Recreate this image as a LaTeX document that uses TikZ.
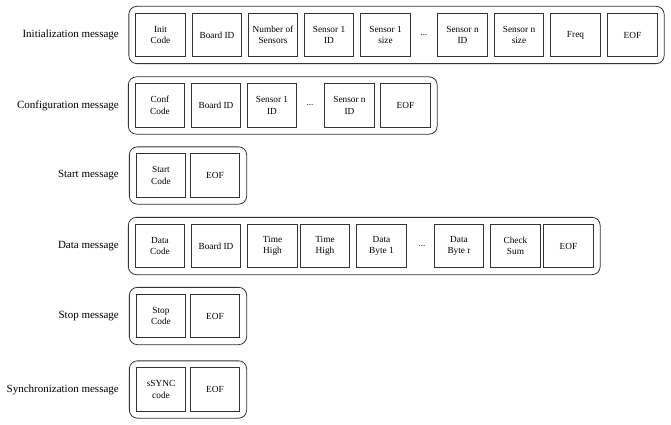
\documentclass[tikz,border=0pt]{standalone}
\usepackage{fontspec}
\setmainfont{Liberation Serif}
\usetikzlibrary{fit}
\begin{document}
\begin{tikzpicture}[x=1pt,y=-1pt,
  cell/.style={draw=black!80, line width=0.8pt, minimum width=49.5pt, minimum height=43.5pt, inner sep=1pt, align=center, font=\fontsize{9.3}{11.5}\selectfont},
  dots/.style={font=\fontsize{9}{10}\selectfont, inner sep=0pt},
  frame/.style={draw=black!80, line width=0.8pt, rounded corners=8pt, inner sep=6.5pt},
  lab/.style={anchor=east, font=\fontsize{11}{13}\selectfont, inner sep=0pt}]
\useasboundingbox (0,0) rectangle (671,425);
% Initialization
\node[lab] (l1) at (119,35) {Initialization message};
\node[cell] (i1) at (160.5,35) {Init\\Code};
\node[cell] (i2) at (217,35) {Board ID};
\node[cell] (i3) at (273,35) {Number of\\Sensors};
\node[cell] (i4) at (329,35) {Sensor 1\\ID};
\node[cell] (i5) at (385.5,35) {Sensor 1\\size};
\node[dots] (i6) at (424,35) {...};
\node[cell] (i7) at (462.5,35) {Sensor n\\ID};
\node[cell] (i8) at (519,35) {Sensor n\\size};
\node[cell] (i9) at (575.5,35) {Freq};
\node[cell] (i10) at (632.5,35) {EOF};
\node[frame, fit=(i1)(i10)] (f1) {};
% Configuration
\node[lab] (l2) at (119,105.5) {Configuration message};
\node[cell] (c1) at (160,105.5) {Conf\\Code};
\node[cell] (c2) at (216,105.5) {Board ID};
\node[cell] (c3) at (272,105.5) {Sensor 1\\ID};
\node[dots] (c4) at (310,105.5) {...};
\node[cell] (c5) at (349.5,105.5) {Sensor n\\ID};
\node[cell] (c6) at (405.5,105.5) {EOF};
\node[frame, fit=(c1)(c6)] (f2) {};
% Start
\node[lab] (l3) at (119,175.5) {Start message};
\node[cell] (s1) at (161,175.5) {Start\\Code};
\node[cell] (s2) at (215,175.5) {EOF};
\node[frame, fit=(s1)(s2)] (f3) {};
% Data
\node[lab] (l4) at (119,246) {Data message};
\node[cell] (d1) at (160,246) {Data\\Code};
\node[cell] (d2) at (216,246) {Board ID};
\node[cell] (d3) at (272.5,246) {Time\\High};
\node[cell] (d4) at (325,246) {Time\\High};
\node[cell] (d5) at (381.5,246) {Data\\Byte 1};
\node[dots] (d6) at (422,246) {...};
\node[cell] (d7) at (459,246) {Data\\Byte r};
\node[cell] (d8) at (515.5,246) {Check\\Sum};
\node[cell] (d9) at (568.5,246) {EOF};
\node[frame, fit=(d1)(d9)] (f4) {};
% Stop
\node[lab] (l5) at (119,316) {Stop message};
\node[cell] (p1) at (161,316) {Stop\\Code};
\node[cell] (p2) at (215,316) {EOF};
\node[frame, fit=(p1)(p2)] (f5) {};
% Sync
\node[lab] (l6) at (119,389.5) {Synchronization message};
\node[cell] (y1) at (161,389.5) {sSYNC\\code};
\node[cell] (y2) at (215,389.5) {EOF};
\node[frame, fit=(y1)(y2)] (f6) {};
\end{tikzpicture}
\end{document}
